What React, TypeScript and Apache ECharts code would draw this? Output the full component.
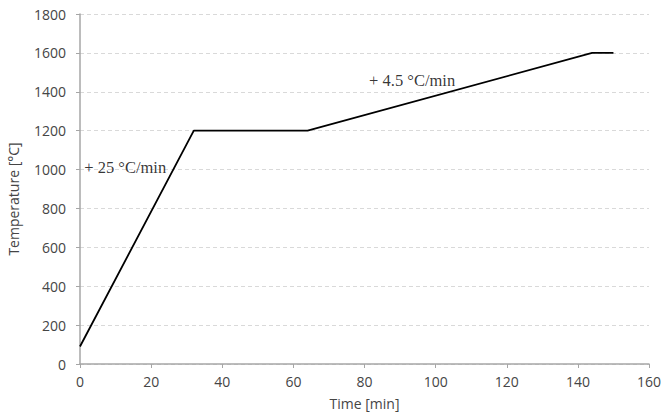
import React, { useEffect, useRef } from "react";
import * as echarts from "echarts";

const timeMin = [0, 32, 64, 144, 150];
const temperature = [90, 1200, 1200, 1600, 1600];
const annotationText = ["+ 25 °C/min", "+ 4.5 °C/min"];
const annotationX = [1.2, 81.3];
const annotationY = [1010, 1460];
const xTicks = { min: 0, max: 160, interval: 20 };
const yTicks = { min: 0, max: 1800, interval: 200 };

export default function App() {
  const ref = useRef<HTMLDivElement>(null);
  useEffect(() => {
    if (!ref.current) return;
    const chart = echarts.init(ref.current, undefined, { renderer: "svg" });
    const axisFont = { fontFamily: "Open Sans", fontSize: 14, color: "#454545" };
    chart.setOption({
      animation: false,
      backgroundColor: "#ffffff",
      grid: { left: 80, right: 14, top: 14, bottom: 56, containLabel: false, outerBoundsMode: "none" },
      xAxis: {
        type: "value",
        min: xTicks.min,
        max: xTicks.max,
        interval: xTicks.interval,
        name: "Time [min]",
        nameLocation: "middle",
        nameGap: 32,
        nameTextStyle: { ...axisFont, fontSize: 14 },
        axisLine: { show: true, lineStyle: { color: "#a6a6a6", width: 1.5 } },
        axisTick: { show: true, length: 4, lineStyle: { color: "#a6a6a6", width: 1 } },
        axisLabel: { ...axisFont, margin: 10, formatter: (v: number) => String(v) },
        splitLine: { show: false },
      },
      yAxis: {
        type: "value",
        min: yTicks.min,
        max: yTicks.max,
        interval: yTicks.interval,
        name: "Temperature [°C]",
        nameLocation: "middle",
        nameGap: 60,
        nameTextStyle: { ...axisFont, fontSize: 14, padding: [0, 20, 0, 0] },
        axisLine: { show: true, lineStyle: { color: "#a6a6a6", width: 1.5 } },
        axisTick: { show: true, length: 4, lineStyle: { color: "#a6a6a6", width: 1 } },
        axisLabel: { ...axisFont, margin: 14, formatter: (v: number) => String(v) },
        splitLine: { show: true, lineStyle: { color: "#d9d9d9", type: [4, 3], width: 1 } },
      },
      series: [
        {
          type: "line",
          data: timeMin.map((t, i) => [t, temperature[i]]),
          symbol: "none",
          lineStyle: { color: "#000000", width: 1.8 },
        },
        {
          type: "scatter",
          symbolSize: 0,
          data: annotationText.map((s, i) => ({ value: [annotationX[i], annotationY[i]], name: s })),
          label: {
            show: true,
            position: "right",
            distance: 0,
            formatter: (p: any) => p.name,
            fontFamily: "Liberation Serif",
            fontSize: 16.5,
            color: "#000000",
          },
        },
      ],
    });
    return () => chart.dispose();
  }, []);
  return <div ref={ref} style={{ width: 663, height: 420, position: "absolute", left: 0, top: 0 }} />;
}
